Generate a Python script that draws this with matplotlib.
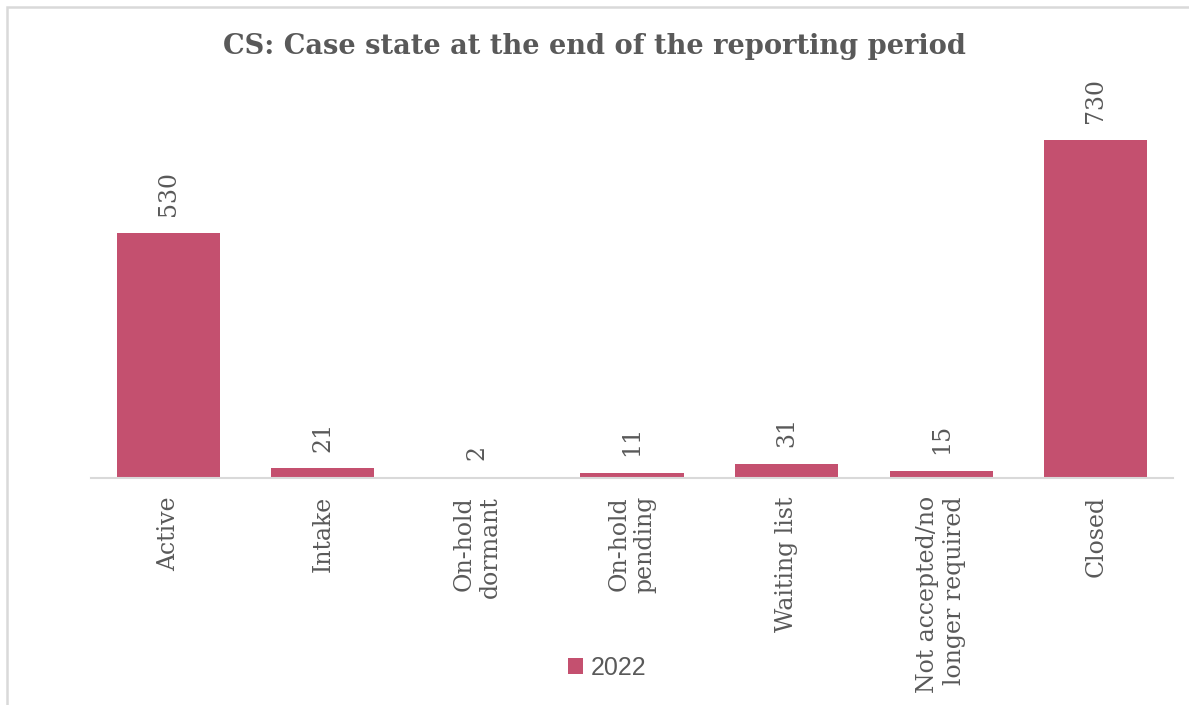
import matplotlib.pyplot as plt
from matplotlib.patches import Rectangle

categories = ['Active', 'Intake', 'On-hold\ndormant', 'On-hold\npending',
              'Waiting list', 'Not accepted/no\nlonger required', 'Closed']
values_2022 = [530, 21, 2, 11, 31, 15, 730]

bar_color = '#C4506F'
text_color = '#595959'

fig = plt.figure(figsize=(11.89, 7.05), dpi=100)

# chart frame (right and bottom edges fall outside the picture)
fig.patches.append(Rectangle((7 / 1189, -0.05), 1.1, 1 - 7 / 705 + 0.05,
                             transform=fig.transFigure, fill=False,
                             edgecolor='#D9D9D9', linewidth=1.8))

ax = fig.add_axes([91 / 1189, 227 / 705, 1082 / 1189, 370.4 / 705])
x = range(len(categories))
bars = ax.bar(x, values_2022, width=0.667, color=bar_color, label='2022')

for b, v in zip(bars, values_2022):
    ax.annotate(str(v), (b.get_x() + b.get_width() / 2, b.get_height()),
                xytext=(0, 12), textcoords='offset points',
                rotation=90, ha='center', va='bottom',
                fontsize=17, color=text_color, family='DejaVu Serif')

ax.set_xlim(-0.5, len(categories) - 0.5)
ax.set_ylim(0, 800)
ax.set_yticks([])
ax.set_xticks(list(x))
ax.set_xticklabels(categories, rotation=90, ha='center', va='top',
                   multialignment='right', fontsize=17, color=text_color,
                   family='DejaVu Serif')
ax.tick_params(axis='x', length=0, pad=13)
for s in ['top', 'right', 'left']:
    ax.spines[s].set_visible(False)
ax.spines['bottom'].set_color('#D9D9D9')
ax.spines['bottom'].set_linewidth(1.5)

fig.text(0.5, 1 - 47 / 705, 'CS: Case state at the end of the reporting period',
         ha='center', va='center', fontsize=19.6, fontweight='bold',
         color=text_color, family='DejaVu Serif')

leg = fig.legend(loc='center', bbox_to_anchor=(607 / 1189, 1 - 668 / 705),
                 frameon=False, handlelength=0.6, handleheight=0.6,
                 handletextpad=0.3, prop={'family': 'Liberation Sans', 'size': 18})
for t in leg.get_texts():
    t.set_color(text_color)

fig.savefig('out.png', dpi=100)
